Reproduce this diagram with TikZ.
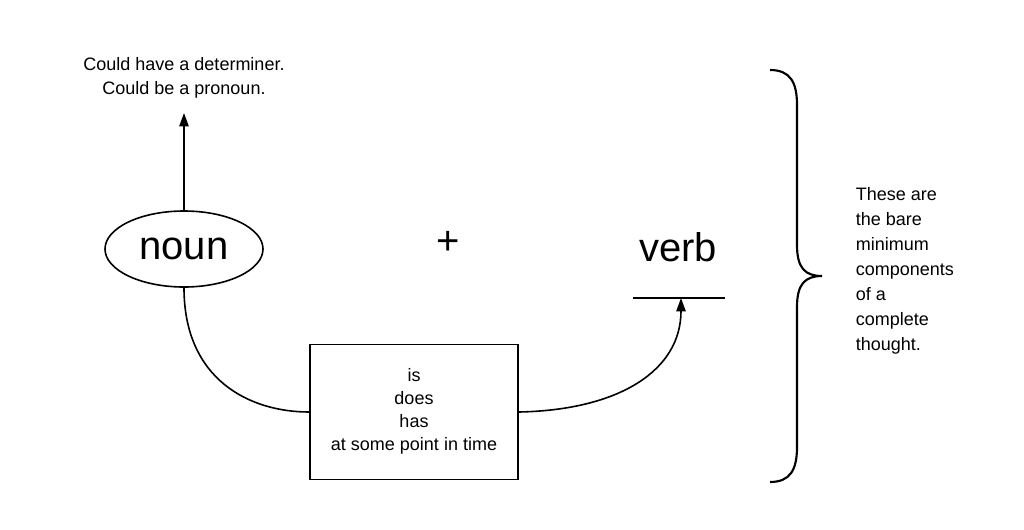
\documentclass[tikz,border=0pt]{standalone}
\usepackage{fontspec}
\setmainfont{Liberation Sans}
\usetikzlibrary{arrows.meta,shapes.geometric}
\begin{document}
\begin{tikzpicture}[x=0.75pt,y=-0.75pt,line width=1.2pt,
  small/.style={font=\fontsize{13.5}{18}\selectfont,align=center,inner sep=0pt},
  big/.style={font=\fontsize{30}{32}\selectfont,inner sep=0pt},
  arr/.style={-{Triangle[length=10pt,width=7pt]}}]
\useasboundingbox (0,0) rectangle (1024,529);
\node[draw,ellipse,minimum width=158*0.75pt,minimum height=76*0.75pt,inner sep=0pt,big] (noun) at (184,249) {noun};
\node[small] (top) at (184,78) {Could have a determiner.\\Could be a pronoun.};
\coordinate (ta) at (184,113);
\draw[arr] (noun.north) -- (ta);
\node[big] (plus) at (448,243) {+};
\node[big] (verb) at (678,247) {verb};
\coordinate (vl) at (633,298); \coordinate (vr) at (725,298);
\draw (vl) -- (vr);
\coordinate (vt) at (681,298);
\node[draw,minimum width=208*0.75pt,minimum height=135*0.75pt,inner sep=0pt] (box) at (414,412) {};
\node[small,font=\fontsize{13.5}{17.2}\selectfont] (boxt) at (414,411) {is\\does\\has\\at some point in time};
\draw (noun.south) .. controls (184,380) and (250,412) .. (box.west);
\draw[arr] (box.east) .. controls (620,410) and (681,370) .. (vt);
\coordinate (bt) at (770,70); \coordinate (bb) at (770,482); \coordinate (tip) at (822,276);
\draw[line width=1.6pt] (bt) .. controls (790,70) and (797,82) .. (797,105) -- (797,245)
  .. controls (797,268) and (805,276) .. (tip)
  .. controls (805,276) and (797,284) .. (797,307) -- (797,447)
  .. controls (797,470) and (790,482) .. (bb);
\node[small,align=left,anchor=north west,font=\fontsize{13.5}{18.7}\selectfont] (right) at (855,187) {These are\\the bare\\minimum\\components\\of a\\complete\\thought.};
\end{tikzpicture}
\end{document}
